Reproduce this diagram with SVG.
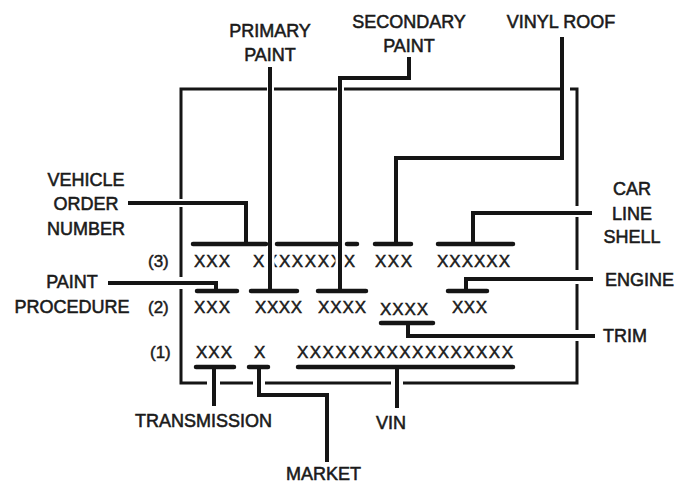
<svg xmlns="http://www.w3.org/2000/svg" width="690" height="483" viewBox="0 0 690 483">
<style>
.lbl{font-family:"Liberation Sans","DejaVu Sans",sans-serif;font-size:18px;fill:#1a1a1a;stroke:#1a1a1a;stroke-width:0.55}
.code{font-family:"Liberation Sans","DejaVu Sans",sans-serif;font-size:17px;fill:#1a1a1a;stroke:#1a1a1a;stroke-width:0.45}
.ctr{text-anchor:middle}
.frame{fill:none;stroke:#151515;stroke-width:3;stroke-linecap:butt;stroke-linejoin:miter}
.lead{fill:none;stroke:#151515;stroke-width:4;stroke-linecap:butt;stroke-linejoin:miter}
.bar{fill:none;stroke:#151515;stroke-width:4.5;stroke-linecap:round}
.halo{fill:none;stroke:#fff;stroke-width:9}
</style>
<rect width="690" height="483" fill="#fff"/>

<g id="frame">
<path class="frame" d="M181,199 V89 H267 M274,89 H337 M344,89 H562"/>
<path class="frame" d="M181,207 V277 M181,289 V383 H207 M220,383 H253 M265,383 H391 M403,383 H577 V341 M577,330 V284 M577,270 V217"/>
<path class="frame" d="M570,89 H577 V206"/>
</g>

<g id="codes">
<text class="code" x="194" y="267" textLength="36" lengthAdjust="spacing">XXX</text>
<text class="code" x="253" y="267" textLength="102" lengthAdjust="spacing">XXXXXXXX</text>
<text class="code" x="375" y="267" textLength="37" lengthAdjust="spacing">XXX</text>
<text class="code" x="437" y="267" textLength="73" lengthAdjust="spacing">XXXXXX</text>
<text class="code" x="194" y="313" textLength="36" lengthAdjust="spacing">XXX</text>
<text class="code" x="255" y="313" textLength="47" lengthAdjust="spacing">XXXX</text>
<text class="code" x="318" y="313" textLength="48" lengthAdjust="spacing">XXXX</text>
<text class="code" x="380" y="315" textLength="48" lengthAdjust="spacing">XXXX</text>
<text class="code" x="452" y="313" textLength="35" lengthAdjust="spacing">XXX</text>
<text class="code" x="196" y="358" textLength="36" lengthAdjust="spacing">XXX</text>
<text class="code" x="254" y="358" textLength="11" lengthAdjust="spacing">X</text>
<text class="code" x="297" y="358" textLength="216" lengthAdjust="spacing">XXXXXXXXXXXXXXXXX</text>
<text class="code" x="148" y="267">(3)</text>
<text class="code" x="148" y="313">(2)</text>
<text class="code" x="150" y="358">(1)</text>
</g>

<g id="connectors">
<path class="halo" d="M270,249 V273 M340,249 V273"/>
<path class="bar" d="M193,244 H266 M277,244 H337 M347,244 H357 M375,244 H411 M438,244 H513"/>
<path class="bar" d="M197,291 H237 M251,291 H297 M318,291 H366 M448,291 H487"/>
<path class="bar" d="M381,323 H433"/>
<path class="bar" d="M196,367 H234 M249,367 H268 M298,367 H513"/>
<path class="lead" d="M270,67 V291"/>
<path class="lead" d="M409,57 V78 H340 V291"/>
<path class="lead" d="M562,37 V158 H396 V244"/>
<path class="lead" d="M128,203 H246 V244"/>
<path class="lead" d="M592,213 H473 V244"/>
<path class="lead" d="M108,283 H216 V291"/>
<path class="lead" d="M593,279 H466 V291"/>
<path class="lead" d="M595,336 H408 V323"/>
<path class="lead" d="M214,367 V406"/>
<path class="lead" d="M259,367 V395 H327 V462"/>
<path class="lead" d="M397,367 V408"/>
</g>

<g id="n-primary"><text class="lbl ctr" x="270" y="37">PRIMARY</text><text class="lbl ctr" x="270" y="61">PAINT</text></g>
<g id="n-secondary"><text class="lbl ctr" x="409" y="28">SECONDARY</text><text class="lbl ctr" x="409" y="52">PAINT</text></g>
<g id="n-vinyl"><text class="lbl ctr" x="561" y="28">VINYL ROOF</text></g>
<g id="n-vehicle"><text class="lbl ctr" x="86" y="186">VEHICLE</text><text class="lbl ctr" x="86" y="210">ORDER</text><text class="lbl ctr" x="86" y="235">NUMBER</text></g>
<g id="n-carline"><text class="lbl ctr" x="632" y="195">CAR</text><text class="lbl ctr" x="632" y="220">LINE</text><text class="lbl ctr" x="632" y="243">SHELL</text></g>
<g id="n-paint"><text class="lbl ctr" x="72" y="288">PAINT</text><text class="lbl ctr" x="72" y="313">PROCEDURE</text></g>
<g id="n-engine"><text class="lbl" x="605" y="286">ENGINE</text></g>
<g id="n-trim"><text class="lbl" x="603" y="342">TRIM</text></g>
<g id="n-trans"><text class="lbl" x="135" y="427">TRANSMISSION</text></g>
<g id="n-vin"><text class="lbl" x="376" y="429">VIN</text></g>
<g id="n-market"><text class="lbl" x="286" y="480">MARKET</text></g>
</svg>
